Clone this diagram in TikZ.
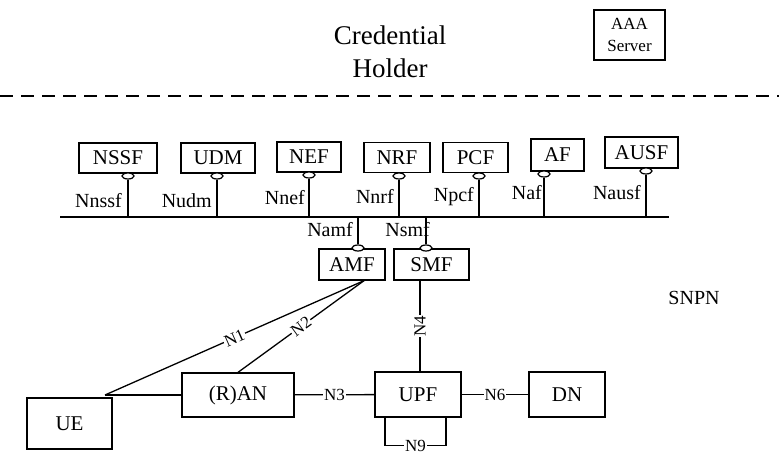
\documentclass[tikz,border=0pt]{standalone}
\usepackage{fontspec}
\setmainfont{Liberation Serif}
\usetikzlibrary{shapes.geometric,calc}

\begin{document}
\begin{tikzpicture}[x=1pt,y=-1pt,
  box/.style={draw, line width=1.3pt, minimum height=30pt, inner sep=0pt,
              font=\fontsize{21}{23}\selectfont},
  pinhead/.style={draw, ellipse, fill=white, line width=1.2pt,
                  minimum width=12pt, minimum height=6pt, inner sep=0pt},
  ifl/.style={font=\fontsize{20}{22}\selectfont, inner sep=0pt},
  ref/.style={font=\fontsize{17}{19}\selectfont, fill=white, inner sep=1pt},
  wire/.style={line width=1.3pt}]

\useasboundingbox (0,0) rectangle (779,454);

% ---- credential holder domain ----
\node[font=\fontsize{27}{33}\selectfont, align=center] (ch) at (390,52) {Credential\\Holder};
\node[box, minimum width=71pt, minimum height=50pt, align=center,
      font=\fontsize{17}{22}\selectfont] (aaa) at (629.5,35) {AAA\\Server};

\draw[line width=1.7pt, dash pattern=on 13pt off 8pt] (0,96) -- (779,96);

% ---- service based bus ----
\coordinate (busL) at (60,217);
\coordinate (busR) at (669,217);
\draw[wire] (busL) -- (busR);

% ---- network functions on the bus ----
\node[box, minimum width=78pt] (nssf) at (118,158) {NSSF};
\node[box, minimum width=74pt] (udm)  at (218,158) {UDM};
\node[box, minimum width=64pt] (nef)  at (309,157) {NEF};
\node[box, minimum width=66pt] (nrf)  at (397,157.5) {NRF};
\node[box, minimum width=65pt] (pcf)  at (475.5,157.5) {PCF};
\node[box, minimum width=53pt, minimum height=32pt] (af) at (557.5,155) {AF};
\node[box, minimum width=73pt, minimum height=31pt] (ausf) at (641.5,152.5) {AUSF};

\node[box, minimum width=66pt, minimum height=31pt] (amf) at (352,264.5) {AMF};
\node[box, minimum width=75pt, minimum height=31pt] (smf) at (431.5,264.5) {SMF};

% service interface pins
\node[pinhead] (pnssf) at (128,176) {};
\node[pinhead] (pudm)  at (217,176) {};
\node[pinhead] (pnef)  at (309,175) {};
\node[pinhead] (pnrf)  at (399,176) {};
\node[pinhead] (ppcf)  at (479,176) {};
\node[pinhead] (paf)   at (544,174) {};
\node[pinhead] (pausf) at (646,171) {};
\node[pinhead] (pamf)  at (358,248) {};
\node[pinhead] (psmf)  at (426,248) {};

\foreach \p in {pnssf,pudm,pnef,pnrf,ppcf,paf,pausf,pamf,psmf}
  \draw[wire] (\p) -- (\p |- busL);

% interface names
\node[ifl, anchor=base east] (lnssf) at (122,208) {Nnssf};
\node[ifl, anchor=base east] (ludm)  at (212,208) {Nudm};
\node[ifl, anchor=base east] (lnef)  at (305,205) {Nnef};
\node[ifl, anchor=base east] (lnrf)  at (394,204) {Nnrf};
\node[ifl, anchor=base east] (lpcf)  at (474,202) {Npcf};
\node[ifl, anchor=base east] (laf)   at (542,200) {Naf};
\node[ifl, anchor=base east] (lausf) at (641,200) {Nausf};
\node[ifl, anchor=base east] (lamf)  at (353,237) {Namf};
\node[ifl, anchor=base east] (lsmf)  at (430,237) {Nsmf};

% ---- user plane ----
\node[box, minimum width=85pt, minimum height=51pt] (ue)  at (69.5,423.5) {UE};
\node[box, minimum width=112pt, minimum height=44pt] (ran) at (238,395) {(R)AN};
\node[box, minimum width=86pt, minimum height=45pt] (upf) at (418,394.5) {UPF};
\node[box, minimum width=76pt, minimum height=45pt] (dn)  at (567,394.5) {DN};

\node[font=\fontsize{20}{22}\selectfont] (snpn) at (694,298) {SNPN};

\coordinate (ueport) at (105,395);
\coordinate (amfport) at ([xshift=12pt]amf.south);

\draw[wire] (ueport) -- (ran.west |- ueport);
\draw[wire] (ueport) -- node[ref, sloped] (n1) {N1} (amfport);
\draw[wire] (ran.north) -- node[ref, sloped] (n2) {N2} (amfport);
\draw[wire] ([xshift=2pt]smf.south -| upf.north) -- node[ref, rotate=90] (n4) {N4}
            ([xshift=2pt]upf.north);
\draw[wire] (ran) -- node[ref] (n3) {N3} (upf);
\draw[wire] (upf) -- node[ref] (n6) {N6} (dn);
\draw[wire] ([xshift=-33pt]upf.south) -- ++(0,28) -- node[ref] (n9) {N9} ++(61,0)
            -- ([xshift=28pt]upf.south);

\end{tikzpicture}
\end{document}
